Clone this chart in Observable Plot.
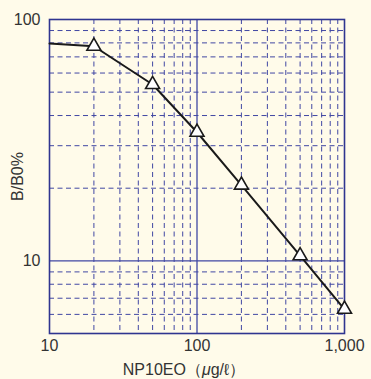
<!DOCTYPE html>
<html>
<head>
<meta charset="utf-8">
<script src="https://cdn.jsdelivr.net/npm/d3@7"></script>
<script src="https://cdn.jsdelivr.net/npm/@observablehq/plot@0.6"></script>
<style>
  html, body { margin: 0; padding: 0; background: #fffbea; }
  #chart { width: 371px; height: 379px; }
</style>
</head>
<body>
<div id="chart"></div>
<script>
// Data
const concentration = [10, 20, 50, 100, 200, 500, 1000];   // NP10EO (μg/ℓ)
const bb0 = [79.5, 77.5, 53.8, 34.1, 20.6, 10.5, 6.3];     // B/B0 %
const markerFrom = 1; // the first point (x=10) has no marker

const xTicks = [10, 100, 1000];
const yTicks = [10, 100];
const xMinorGrid = [20, 30, 40, 50, 60, 70, 80, 90, 200, 300, 400, 500, 600, 700, 800, 900];
const yMinorGrid = [6, 7, 8, 9, 20, 30, 40, 50, 60, 70, 80, 90];
const xMajorGrid = [100];
const yMajorGrid = [10];
const xLabel = "NP10EO（μg/ℓ）";
const yLabel = "B/B0%";

const data = concentration.map((c, i) => ({c, v: bb0[i]}));
const markers = data.slice(markerFrom);

const gridColor = "#4047a3";
const frameColor = "#2f3590";
const textColor = "#333333";

const chart = Plot.plot({
  width: 371,
  height: 379,
  marginLeft: 49,
  marginRight: 27,
  marginTop: 19,
  marginBottom: 46,
  style: {background: "#fffbea", fontFamily: "Liberation Sans, Arial, sans-serif", fontSize: "16px", color: textColor},
  x: {type: "log", domain: [10, 1000]},
  y: {type: "log", domain: [5, 100]},
  marks: [
    Plot.ruleX(xMinorGrid, {stroke: gridColor, strokeWidth: 1, strokeDasharray: "5,3.5"}),
    Plot.ruleY(yMinorGrid, {stroke: gridColor, strokeWidth: 1, strokeDasharray: "5,3.5"}),
    Plot.ruleX(xMajorGrid, {stroke: gridColor, strokeWidth: 1.3}),
    Plot.ruleY(yMajorGrid, {stroke: gridColor, strokeWidth: 1.3}),
    Plot.frame({stroke: frameColor, strokeWidth: 1.6}),
    Plot.axisX({ticks: xTicks, tickFormat: d3.format(","), tickSize: 0, tickPadding: 6,
      label: xLabel, labelAnchor: "center", labelArrow: "none", labelOffset: 41, fill: textColor}),
    Plot.axisY({ticks: yTicks, tickFormat: d => String(d), tickSize: 0, tickPadding: 9,
      label: yLabel, labelAnchor: "center", labelArrow: "none", labelOffset: 38, fill: textColor}),
    Plot.line(data, {x: "c", y: "v", stroke: "#1a1a1a", strokeWidth: 2}),
    Plot.dot(markers, {x: "c", y: "v", symbol: "triangle", r: 5.2, fill: "white", stroke: "#1a1a1a", strokeWidth: 1.6})
  ]
});
document.getElementById("chart").appendChild(chart);

// italic μ in the x label, and nudge it left as in the reference
d3.select(chart).selectAll("text")
  .filter(function () { return this.textContent === xLabel; })
  .each(function () {
    const t = d3.select(this);
    t.text(null).attr("dx", -13);
    const i = xLabel.indexOf("μ");
    t.append("tspan").text(xLabel.slice(0, i));
    t.append("tspan").attr("font-style", "italic").text("μ");
    t.append("tspan").text(xLabel.slice(i + 1));
  });
</script>
</body>
</html>
